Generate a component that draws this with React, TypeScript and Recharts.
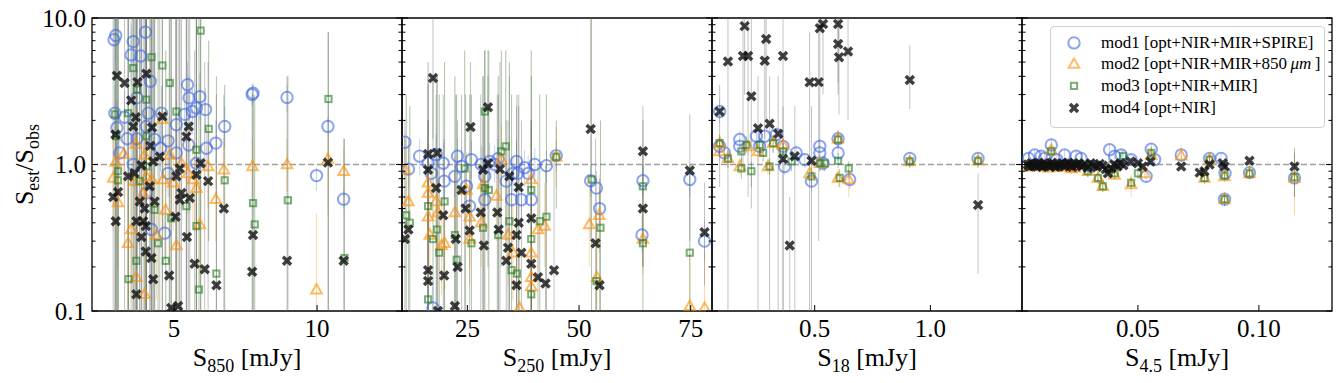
import { ErrorBar, ReferenceArea, ReferenceLine, Scatter, ScatterChart, XAxis, YAxis } from "recharts";

// each point: [flux, S_est/S_obs, lower end of bar, upper end of bar]
type Pt = [number, number, number, number];

const mod1_850: Pt[] = [
  [2.9,7.1,4.0,10],[2.96,7.6,5.0,10],[3.57,6.9,4.5,10],[3.5,5.6,3.5,9],[3.83,5.5,3.0,10],[4.0,8.0,5.0,10],[4.17,3.7,2.5,5.5],[3.7,2.85,1.8,4.5],
  [2.93,2.24,1.5,3.5],[3.27,2.1,1.4,3.2],[3.0,1.78,1.2,2.7],[3.36,1.5,1.0,2.3],[4.1,2.24,1.5,3.4],[4.03,1.82,1.2,2.8],[4.32,1.48,1.0,2.2],[4.56,2.24,1.5,3.4],
  [4.79,1.45,1.0,2.1],[4.53,1.29,0.9,1.9],[5.08,1.87,1.3,2.7],[5.47,3.5,2.4,5.0],[5.52,2.85,2.0,4.0],[5.9,2.9,2.0,4.2],[5.37,2.2,1.5,3.2],[5.78,2.43,1.7,3.5],
  [6.1,2.37,1.7,3.3],[5.64,2.3,1.6,3.3],[5.51,1.36,0.95,1.95],[6.13,1.29,0.9,1.8],[6.46,1.4,1.0,2.0],[6.77,1.82,1.3,2.5],[5.08,1.2,0.85,1.7],[5.78,1.02,0.75,1.4],
  [3.57,1.0,0.7,1.45],[4.79,0.87,0.6,1.25],[3.1,1.2,0.85,1.7],[7.76,3.07,2.6,3.6],[7.73,3.0,2.5,3.5],[8.95,2.87,2.3,3.5],[10.38,1.82,1.6,2.1],[9.98,0.84,0.66,0.95],
  [10.93,0.58,0.5,0.68],[4.67,0.34,0.22,0.5],[4.21,0.36,0.24,0.52],[4.03,0.64,0.45,0.9],[3.7,1.5,1.0,2.2],
];
const mod2_850: Pt[] = [
  [2.96,1.04,0.5,2.0],[2.87,0.81,0.35,1.7],[3.24,1.18,0.6,2.3],[3.04,0.55,0.2,1.2],[3.5,0.36,0.12,0.9],[3.39,0.29,0.1,0.8],[3.66,1.38,0.7,2.6],[3.62,0.77,0.35,1.6],
  [3.68,0.17,0.1,0.5],[3.97,1.16,0.55,2.3],[4.03,0.83,0.4,1.7],[3.92,0.64,0.3,1.4],[3.97,0.13,0.1,0.4],[4.21,0.79,0.35,1.6],[4.38,0.33,0.12,0.8],[4.62,0.79,0.35,1.6],
  [4.7,0.49,0.2,1.1],[4.85,1.16,0.6,2.2],[4.97,0.75,0.35,1.5],[5.08,0.28,0.1,0.7],[5.26,1.02,0.5,2.0],[5.49,0.87,0.45,1.7],[5.66,0.79,0.4,1.5],[5.78,0.69,0.35,1.4],
  [5.9,0.39,0.15,0.85],[6.19,0.97,0.5,1.8],[6.46,0.58,0.3,1.1],[6.74,0.92,0.55,1.5],[7.74,0.97,0.6,1.5],[8.95,1.0,0.65,1.5],[10.38,1.09,0.45,1.6],[10.93,0.9,0.6,1.3],
  [9.98,0.14,0.1,0.46],[4.59,2.04,1.0,3.5],
];
const mod3_850: Pt[] = [
  [5.93,8.2,0.1,10],[4.21,5.4,0.1,10],[4.59,4.74,0.1,10],[3.57,4.55,0.1,10],[4.85,3.6,0.1,10],[4.03,2.77,0.1,10],[3.7,3.24,0.1,10],[2.93,2.2,0.1,10],
  [3.39,2.24,0.1,10],[5.08,2.3,0.1,10],[6.21,1.75,0.3,7],[2.98,1.56,0.1,10],[4.03,1.56,0.1,10],[5.78,1.26,0.1,10],[3.04,0.9,0.1,10],[3.04,0.78,0.1,10],
  [6.77,0.78,0.1,3.5],[3.8,0.77,0.1,10],[4.32,0.49,0.1,10],[5.43,0.52,0.1,10],[4.9,0.43,0.1,10],[5.78,0.38,0.1,10],[4.44,0.29,0.1,10],[3.68,0.22,0.1,10],
  [4.71,0.22,0.1,6],[3.41,0.165,0.1,10],[5.87,0.14,0.1,10],[6.48,0.18,0.1,4],[7.76,0.545,0.1,3.5],[7.82,0.39,0.1,3],[8.98,0.57,0.1,4],[10.4,2.8,0.1,8],
  [10.96,0.23,0.1,1.5],[4.03,0.97,0.1,10],
];
const mod4_850: Pt[] = [
  [3.0,4.03,0.1,10],[3.27,3.6,0.1,10],[4.03,4.16,0.1,10],[3.72,3.65,0.1,10],[3.5,2.74,0.1,10],[3.66,2.1,0.1,10],[3.57,1.82,0.1,10],[2.95,1.6,0.1,10],
  [4.23,1.79,0.1,10],[4.59,2.13,0.1,10],[5.51,1.82,0.1,10],[5.43,1.55,0.1,10],[4.17,1.34,0.1,10],[4.5,1.13,0.1,10],[4.27,1.05,0.1,10],[3.86,0.99,0.1,10],
  [5.93,1.02,0.1,10],[3.39,0.83,0.1,10],[3.62,0.87,0.1,10],[5.08,0.83,0.1,10],[5.2,0.94,0.1,10],[5.78,0.85,0.1,10],[6.19,0.77,0.1,5],[4.15,0.71,0.1,10],
  [2.87,0.6,0.1,10],[3.04,0.65,0.1,10],[5.26,0.64,0.1,10],[5.2,0.575,0.1,10],[5.55,0.59,0.1,10],[3.8,0.56,0.1,10],[4.32,0.56,0.1,10],[3.97,0.5,0.1,10],
  [6.74,0.5,0.1,3],[5.05,0.44,0.1,10],[2.96,0.41,0.1,10],[3.68,0.41,0.1,10],[3.92,0.41,0.1,10],[4.01,0.38,0.1,10],[3.86,0.32,0.1,10],[5.45,0.32,0.1,10],
  [4.01,0.255,0.1,10],[4.21,0.23,0.1,10],[5.72,0.21,0.1,6],[6.07,0.193,0.1,5],[7.76,0.33,0.1,3],[7.73,0.185,0.1,3],[8.95,0.22,0.1,4],[10.38,1.03,0.1,8],
  [10.93,0.22,0.1,1.5],[4.83,0.175,0.1,10],[4.27,0.165,0.1,10],[6.48,0.15,0.1,3],[3.68,0.13,0.1,10],[4.9,0.105,0.1,10],[5.14,0.108,0.1,10],
];

const mod1_250: Pt[] = [
  [11,1.42,1.0,2.0],[11.8,0.93,0.7,1.3],[14.3,1.14,0.85,1.5],[16.2,1.02,0.75,1.4],[18,1.17,0.85,1.6],[16.9,0.87,0.6,1.2],[19.6,1.02,0.75,1.4],[19.8,0.77,0.55,1.1],
  [22.2,0.83,0.6,1.15],[22.8,1.14,0.85,1.5],[23.7,0.97,0.7,1.3],[24.8,0.71,0.5,1.0],[25.5,0.52,0.35,0.75],[25.9,1.08,0.8,1.45],[28.1,1.0,0.75,1.35],[28.9,0.83,0.6,1.15],
  [28.9,0.575,0.4,0.8],[30,1.05,0.8,1.4],[31.1,1.0,0.75,1.35],[31.9,1.1,0.8,1.5],[33.7,0.77,0.55,1.05],[34.9,0.575,0.4,0.8],[36,1.05,0.8,1.4],[36.3,0.87,0.65,1.15],
  [37.1,0.575,0.4,0.8],[37.8,0.95,0.7,1.25],[39.3,0.575,0.4,0.8],[40.1,1.0,0.75,1.3],[42.7,0.98,0.75,1.25],[44.9,1.15,0.9,1.45],[52.6,0.775,0.6,1.0],[53.9,0.69,0.5,0.9],
  [54.6,0.5,0.35,0.7],[64.3,0.775,0.6,1.0],[64.1,0.33,0.25,0.45],[74.8,0.79,0.6,1.0],[78.1,0.3,0.22,0.42],[17.3,0.105,0.1,0.16],[35.2,0.87,0.65,1.15],[38.6,0.87,0.65,1.15],
];
const mod2_250: Pt[] = [
  [11,0.92,0.5,1.7],[11.8,0.56,0.3,1.0],[16.2,0.75,0.4,1.4],[16.2,0.64,0.3,1.3],[16.2,0.44,0.2,0.9],[16.6,0.33,0.15,0.7],[18,0.56,0.3,1.1],[18.4,0.47,0.25,0.9],
  [19.2,0.28,0.13,0.6],[19.9,0.29,0.14,0.6],[22.2,0.47,0.25,0.9],[24.8,0.67,0.35,1.2],[25.5,0.44,0.2,0.9],[25.5,0.31,0.15,0.65],[28.1,0.4,0.2,0.8],[28.5,0.73,0.4,1.3],
  [31.5,0.61,0.3,1.2],[32.6,1.08,0.6,1.9],[34.1,0.33,0.15,0.7],[35.2,0.25,0.12,0.55],[39.3,0.79,0.4,1.5],[39.3,0.25,0.12,0.55],[39.3,0.17,0.1,0.4],[39.3,0.147,0.1,0.35],
  [40.8,0.36,0.18,0.75],[42.3,0.38,0.2,0.75],[44.9,1.13,0.7,1.8],[52.3,0.39,0.2,0.8],[54,0.17,0.1,0.4],[54.5,0.45,0.25,0.85],[64.3,0.31,0.18,0.6],[74.8,0.108,0.1,0.25],
  [78.1,0.105,0.1,0.25],[36.7,0.105,0.1,0.25],
];
const mod3_250: Pt[] = [
  [11.3,0.45,0.1,3],[12.1,0.4,0.1,2.5],[16.2,0.52,0.1,5],[16.2,0.12,0.1,2],[17.3,0.31,0.1,4],[19.9,0.56,0.1,5],[18.2,0.36,0.1,4],[18.7,0.25,0.1,3],
  [22.2,0.33,0.1,4],[22.6,0.224,0.1,3],[24.4,0.94,0.1,6],[25.9,0.29,0.1,3],[28.5,0.37,0.1,4],[28.9,0.69,0.1,6],[29.8,0.67,0.1,6],[28.9,2.3,0.5,6],
  [31.9,0.33,0.1,4],[32.6,1.23,0.2,6],[33.6,1.33,0.3,6],[34.4,0.41,0.1,5],[34.9,0.19,0.1,3],[36.1,0.18,0.1,3],[39.3,0.67,0.1,6],[39.3,0.31,0.1,4],
  [39.3,0.13,0.1,2],[41.2,0.41,0.1,3],[42.7,0.44,0.1,3],[44.9,1.13,0.5,2],[52.8,0.79,0.1,10],[54.8,0.37,0.1,2],[64.3,0.71,0.2,2],[64.3,0.29,0.1,1],
  [74.8,0.25,0.1,1],[53.9,0.16,0.1,0.5],
];
const mod4_250: Pt[] = [
  [17.3,3.9,1.5,10],[16.2,1.18,0.1,4],[18.2,1.2,0.1,4],[16.2,0.92,0.1,3.5],[18,0.69,0.1,3],[19.6,0.45,0.1,3],[11,0.31,0.1,1.5],[11.8,0.36,0.1,1.5],
  [16.2,0.19,0.1,2],[16.2,0.16,0.1,2],[19.8,0.175,0.1,1.5],[18.4,0.1,0.1,1],[22.2,0.108,0.1,1],[22.4,0.31,0.1,3],[22.8,0.2,0.1,2],[23.7,0.67,0.1,3],
  [24.6,0.5,0.1,3],[25.5,0.355,0.1,3],[25.7,1.8,0.4,5],[28,0.47,0.1,3],[28.5,0.92,0.1,4],[28.7,0.28,0.1,2.5],[29.6,2.46,0.5,6],[29.6,1.02,0.2,4],
  [31.7,0.47,0.1,3],[32,0.36,0.1,3],[32.3,0.93,0.1,5],[33.7,0.22,0.1,2],[34.1,0.27,0.1,2],[34.4,0.83,0.1,4],[36,0.33,0.1,2.5],[36.5,0.4,0.1,2.5],
  [36.5,0.7,0.1,3],[36,0.15,0.1,1.5],[37.1,0.25,0.1,2],[39.3,0.43,0.1,2],[39.3,0.21,0.1,2],[40.8,0.17,0.1,1],[42.5,0.154,0.1,1],[44.4,0.19,0.1,1.2],
  [52.6,1.75,0.3,10],[53.7,0.29,0.1,1.5],[54.6,0.15,0.1,0.8],[64.3,1.23,0.6,2.5],[64.3,0.5,0.2,1.2],[74.8,0.91,0.3,2.2],[78.1,0.345,0.15,0.75],
];

const mod1_18: Pt[] = [
  [0.089,2.3,1.9,2.8],[0.089,1.33,1.15,1.5],[0.176,1.48,1.3,1.7],[0.176,1.33,1.15,1.5],[0.248,1.56,1.35,1.8],[0.284,1.56,1.35,1.8],[0.334,1.6,1.4,1.8],[0.363,1.33,1.15,1.5],
  [0.37,0.97,0.85,1.1],[0.42,1.2,1.05,1.35],[0.457,1.08,0.95,1.2],[0.522,1.33,1.15,1.5],[0.522,1.2,1.05,1.35],[0.536,1.02,0.9,1.15],[0.486,0.77,0.65,0.9],[0.601,1.5,1.3,1.7],
  [0.601,1.2,1.05,1.35],[0.651,0.79,0.68,0.9],[0.911,1.1,1.0,1.2],[1.206,1.1,1.0,1.2],[0.262,1.33,1.15,1.5],[0.11,1.2,1.05,1.35],
];
const mod2_18: Pt[] = [
  [0.089,1.4,1.2,1.6],[0.089,1.23,1.05,1.4],[0.125,1.1,0.95,1.25],[0.176,0.97,0.85,1.1],[0.212,1.33,1.15,1.5],[0.255,1.23,1.05,1.4],[0.298,0.97,0.85,1.1],[0.32,1.4,1.2,1.6],
  [0.363,1.36,1.2,1.55],[0.478,0.87,0.75,1.0],[0.522,1.02,0.9,1.15],[0.601,1.5,1.3,1.7],[0.601,0.81,0.7,0.93],[0.647,0.79,0.6,0.95],[0.911,1.05,0.95,1.15],[1.206,1.06,0.95,1.15],
];
const mod3_18: Pt[] = [
  [0.089,1.4,1.2,1.6],[0.125,1.1,0.95,1.25],[0.183,1.23,1.05,1.4],[0.183,0.94,0.8,1.1],[0.205,1.36,1.2,1.55],[0.226,0.9,0.7,1.05],[0.262,1.36,1.2,1.55],[0.277,1.2,1.05,1.35],
  [0.305,0.97,0.85,1.1],[0.32,1.4,1.2,1.6],[0.363,1.23,1.05,1.4],[0.4,1.05,0.9,1.2],[0.486,0.83,0.7,0.95],[0.522,1.02,0.9,1.15],[0.543,1.02,0.9,1.15],[0.601,1.48,1.3,1.7],
  [0.601,1.06,0.95,1.2],[0.608,0.81,0.7,0.93],[0.647,0.94,0.8,1.05],[0.911,1.05,0.95,1.15],[1.206,1.06,0.95,1.15],
];
const mod4_18: Pt[] = [
  [0.197,8.8,3,10],[0.125,5.05,0.1,10],[0.19,5.5,1.0,10],[0.212,5.5,0.6,10],[0.29,7.2,2,10],[0.284,5.1,1.5,10],[0.363,5.5,0.1,10],[0.226,2.92,0.5,10],
  [0.255,1.77,0.1,4],[0.305,1.9,0.1,4],[0.342,1.62,0.1,4],[0.478,3.64,0.1,8],[0.517,3.65,0.3,10],[0.522,8.5,1.3,10],[0.536,9.1,3,10],[0.601,9.1,3.6,10],
  [0.601,6.65,3.0,10],[0.605,5.4,2.2,10],[0.644,5.9,2.0,10],[0.911,3.78,2.4,6.5],[1.206,0.53,0.18,0.87],[0.392,0.28,0.1,0.6],[0.363,1.09,0.1,2.5],[0.414,1.14,0.1,2.5],
  [0.486,1.06,0.1,2.5],[0.089,2.3,0.7,3.5],
];

const mod1_45: Pt[] = [
  [0.0048,1.1,1.0,1.2],[0.0073,1.16,1.05,1.27],[0.010,1.14,1.04,1.25],[0.0142,1.36,1.24,1.5],[0.0197,1.16,1.05,1.27],[0.0245,1.14,1.04,1.25],[0.0307,0.97,0.88,1.06],[0.0383,1.26,1.15,1.38],
  [0.0404,1.14,1.04,1.25],[0.0431,1.16,1.05,1.27],[0.0534,0.83,0.75,0.91],[0.0555,1.27,1.15,1.4],[0.0569,1.08,0.98,1.18],[0.0679,1.16,1.05,1.27],[0.0796,1.1,1.0,1.2],[0.0844,1.1,1.0,1.2],
  [0.086,0.87,0.8,0.95],[0.0858,0.58,0.52,0.64],[0.0961,0.88,0.8,0.96],[0.1147,0.81,0.72,0.9],[0.0472,1.08,0.98,1.18],[0.0115,1.1,1.0,1.2],[0.0165,1.08,0.98,1.18],[0.0265,1.1,1.0,1.2],
];
const mod2_45: Pt[] = [
  [0.0048,0.97,0.9,1.05],[0.0142,1.26,1.15,1.38],[0.0225,0.94,0.86,1.03],[0.0335,0.81,0.74,0.89],[0.0355,0.71,0.65,0.78],[0.0404,0.85,0.78,0.93],[0.0472,0.73,0.6,0.85],[0.0528,0.87,0.8,0.95],
  [0.0555,1.16,1.05,1.27],[0.0679,1.15,1.0,1.35],[0.0775,0.81,0.74,0.89],[0.0858,0.83,0.76,0.9],[0.0858,0.58,0.52,0.64],[0.0961,0.87,0.8,0.95],[0.1147,0.81,0.45,1.25],[0.0796,1.08,0.98,1.18],
  [0.0293,0.9,0.82,0.98],[0.008,0.97,0.9,1.05],[0.013,0.95,0.88,1.03],[0.018,0.96,0.88,1.04],[0.024,0.95,0.88,1.03],
];
const mod3_45: Pt[] = [
  [0.0048,0.97,0.9,1.05],[0.0142,1.23,1.12,1.35],[0.0197,1.0,0.92,1.08],[0.0335,0.81,0.74,0.89],[0.0355,0.71,0.65,0.78],[0.0404,0.87,0.8,0.95],[0.0438,1.14,1.04,1.25],[0.0472,0.75,0.68,0.82],
  [0.05,0.87,0.8,0.95],[0.0555,1.2,1.1,1.32],[0.0775,0.81,0.74,0.89],[0.0796,1.08,0.98,1.18],[0.0858,0.84,0.77,0.92],[0.0858,0.58,0.52,0.64],[0.0961,0.87,0.8,0.95],[0.1147,0.82,0.6,1.2],
  [0.0293,0.9,0.82,0.98],[0.0266,1.0,0.92,1.08],[0.009,1.0,0.92,1.08],[0.011,0.98,0.9,1.06],[0.0155,0.97,0.9,1.05],[0.0225,1.02,0.94,1.1],[0.038,0.92,0.8,1.1],
];
const mod4_45: Pt[] = [
  [0.0045,1.0,0.95,1.05],[0.0052,0.97,0.92,1.02],[0.006,1.02,0.97,1.07],[0.0068,0.98,0.93,1.03],[0.0075,1.01,0.96,1.06],[0.0083,0.97,0.92,1.02],[0.009,1.03,0.98,1.08],[0.0098,0.99,0.94,1.04],
  [0.0105,0.96,0.91,1.01],[0.0113,1.02,0.97,1.07],[0.012,0.98,0.93,1.03],[0.0128,1.0,0.95,1.05],[0.0136,0.97,0.92,1.02],[0.0145,1.03,0.98,1.08],[0.0153,0.99,0.94,1.04],[0.016,0.96,0.91,1.01],
  [0.0168,1.01,0.96,1.06],[0.0177,0.98,0.93,1.03],[0.0185,1.02,0.97,1.07],[0.0194,0.97,0.92,1.02],[0.0203,1.0,0.95,1.05],[0.0212,1.03,0.98,1.08],[0.022,0.98,0.93,1.03],[0.0229,0.96,0.91,1.01],
  [0.0238,1.01,0.96,1.06],[0.0247,0.99,0.94,1.04],[0.0256,1.02,0.97,1.07],[0.0268,0.97,0.92,1.02],[0.028,1.0,0.95,1.05],[0.0292,0.95,0.9,1.0],[0.0305,1.02,0.97,1.07],[0.0318,0.98,0.93,1.03],
  [0.033,0.96,0.91,1.01],[0.0342,1.01,0.96,1.06],[0.0355,0.98,0.93,1.03],[0.0367,0.93,0.88,0.98],[0.0376,0.87,0.82,0.92],[0.039,0.94,0.89,0.99],[0.0402,1.0,0.95,1.05],[0.0415,0.97,0.92,1.02],
  [0.0428,1.02,0.97,1.07],[0.044,0.99,0.94,1.04],[0.047,1.05,1.0,1.1],[0.05,1.02,0.97,1.07],[0.052,0.97,0.92,1.02],[0.0552,1.05,1.0,1.1],[0.0679,0.97,0.92,1.02],[0.0755,0.88,0.84,0.92],
  [0.0775,0.9,0.86,0.94],[0.0796,1.0,0.95,1.05],[0.085,1.02,0.97,1.07],[0.0858,0.97,0.92,1.02],[0.0961,1.06,1.0,1.12],[0.1147,0.97,0.6,1.3],
];

const yTicks = [0.1, 0.2, 0.3, 0.4, 0.5, 0.6, 0.7, 0.8, 0.9, 1, 2, 3, 4, 5, 6, 7, 8, 9, 10];
const yMajor = [0.1, 1, 10];
const yLabels = ["0.1", "1.0", "10.0"];

const panels = [
  { left: 92, right: 402, domain: [2.13, 12.97], ticks: [5, 10], tickLabels: ["5", "10"], band: "850", series: [mod1_850, mod2_850, mod3_850, mod4_850] },
  { left: 402, right: 712, domain: [10.36, 79.77], ticks: [25, 50, 75], tickLabels: ["25", "50", "75"], band: "250", series: [mod1_250, mod2_250, mod3_250, mod4_250] },
  { left: 712, right: 1022, domain: [0.056, 1.396], ticks: [0.5, 1.0], tickLabels: ["0.5", "1.0"], band: "18", series: [mod1_18, mod2_18, mod3_18, mod4_18] },
  { left: 1022, right: 1332, domain: [0.0021, 0.1302], ticks: [0.05, 0.1], tickLabels: ["0.05", "0.10"], band: "4.5", series: [mod1_45, mod2_45, mod3_45, mod4_45] },
];

const W = 1341;
const H = 383;
const TOP = 18;
const BOTTOM = 311;
const FONT = "'Liberation Serif', 'Times New Roman', serif";
const txt = { fontFamily: FONT };

const models = [
  { name: "mod1", label: "[opt+NIR+MIR+SPIRE]", err: "#4169e1", errOpacity: 0.3 },
  { name: "mod2", label: "[opt+NIR+MIR+850", err: "#ff8c00", errOpacity: 0.35 },
  { name: "mod3", label: "[opt+NIR+MIR]", err: "#2d6a1f", errOpacity: 0.4 },
  { name: "mod4", label: "[opt+NIR]", err: "#777", errOpacity: 0.45 },
];

function Marker({ kind, cx, cy }: { kind: number; cx: number; cy: number }) {
  if (cx == null || cy == null || isNaN(cx) || isNaN(cy)) return <g />;
  if (kind === 0)
    return <circle cx={cx} cy={cy} r={5.7} fill="none" stroke="#4169e1" strokeOpacity={0.6} strokeWidth={2} />;
  if (kind === 1)
    return (
      <polygon
        points={`${cx},${cy - 5.5} ${cx - 5.3},${cy + 3.8} ${cx + 5.3},${cy + 3.8}`}
        fill="none" stroke="#ff8c00" strokeOpacity={0.6} strokeWidth={2}
      />
    );
  if (kind === 2)
    return <rect x={cx - 3.1} y={cy - 3.1} width={6.2} height={6.2} fill="none" stroke="#1f7a1f" strokeOpacity={0.6} strokeWidth={2} />;
  return (
    <path
      d={`M${cx - 4},${cy - 4}L${cx + 4},${cy + 4}M${cx - 4},${cy + 4}L${cx + 4},${cy - 4}`}
      stroke="#111" strokeWidth={3.5} opacity={0.8}
    />
  );
}

const toRows = (pts: Pt[]) => pts.map(([x, y, lo, hi]) => ({ x, y, err: [y - lo, hi - y] }));

function YTick(props: any) {
  const { x, y, payload, side, showLabel } = props;
  const v = payload.value;
  const mi = yMajor.indexOf(v);
  const len = mi >= 0 ? 6 : 3.5;
  const x2 = side === "left" ? x + len : x - len;
  return (
    <g>
      <line x1={x} x2={x2} y1={y} y2={y} stroke="#000" strokeWidth={1} />
      {showLabel && mi >= 0 && (
        <text x={x - 6} y={y + 8.5} textAnchor="end" fontSize={25} style={txt} fill="#000">
          {yLabels[mi]}
        </text>
      )}
    </g>
  );
}

function XTick(props: any) {
  const { x, y, payload, ticks, labels } = props;
  const i = ticks.indexOf(payload.value);
  return (
    <g>
      <line x1={x} x2={x} y1={y} y2={y - 6} stroke="#000" strokeWidth={1} />
      <text x={x} y={y + 25.5} textAnchor="middle" fontSize={25} style={txt} fill="#000">
        {labels[i]}
      </text>
    </g>
  );
}

function XLabel(props: any) {
  const { viewBox, band } = props;
  const cx = viewBox.x + viewBox.width / 2;
  return (
    <text x={cx} y={BOTTOM + 55} textAnchor="middle" fontSize={26} style={txt} fill="#000">
      S<tspan dy={6} fontSize={18}>{band}</tspan>
      <tspan dy={-6}> [mJy]</tspan>
    </text>
  );
}

function YLabel() {
  const x = 33;
  const y = TOP + (BOTTOM - TOP) / 2;
  return (
    <text x={x} y={y} transform={`rotate(-90, ${x}, ${y})`} textAnchor="middle" fontSize={26} style={txt} fill="#000">
      S<tspan dy={6} fontSize={18}>est</tspan>
      <tspan dy={-6}>/S</tspan>
      <tspan dy={6} fontSize={18}>obs</tspan>
    </text>
  );
}

function Panel({ p, index }: { p: (typeof panels)[number]; index: number }) {
  const first = index === 0;
  // axes are 1px wide/high so that recharts still draws them; margins compensate
  return (
    <div style={{ position: "absolute", left: 0, top: 0 }}>
      <ScatterChart width={W} height={H} margin={{ top: TOP, bottom: H - BOTTOM - 1, left: p.left - 1, right: W - p.right - 1 }}>
        <XAxis
          type="number" dataKey="x" domain={p.domain} allowDataOverflow ticks={p.ticks} interval={0}
          height={1} tickSize={0} tickMargin={0} axisLine={false} tickLine={false}
          tick={(tp: any) => <XTick {...tp} ticks={p.ticks} labels={p.tickLabels} />}
          label={<XLabel band={p.band} />}
        />
        <YAxis
          yAxisId="l" type="number" dataKey="y" scale="log" domain={[0.1, 10]} allowDataOverflow ticks={yTicks} interval={0}
          width={1} tickSize={0} tickMargin={0} axisLine={false} tickLine={false}
          tick={(tp: any) => <YTick {...tp} side="left" showLabel={first} />}
          label={first ? <YLabel /> : undefined}
        />
        <YAxis
          yAxisId="r" orientation="right" type="number" dataKey="y" scale="log" domain={[0.1, 10]} allowDataOverflow ticks={yTicks} interval={0}
          width={1} tickSize={0} tickMargin={0} axisLine={false} tickLine={false}
          tick={(tp: any) => <YTick {...tp} side="right" showLabel={false} />}
        />
        <ReferenceLine yAxisId="l" y={1} stroke="#888" strokeOpacity={0.8} strokeWidth={1.5} strokeDasharray="6 3" />
        {p.series.map((pts, k) => (
          <Scatter
            key={k} yAxisId="l" name={models[k].name} data={toRows(pts)} isAnimationActive={false}
            shape={(sp: any) => <Marker kind={k} cx={sp.cx} cy={sp.cy} />}
          >
            <ErrorBar dataKey="err" direction="y" width={0} stroke={models[k].err} strokeOpacity={models[k].errOpacity} strokeWidth={1} />
          </Scatter>
        ))}
        <ReferenceArea
          yAxisId="l" x1={p.domain[0]} x2={p.domain[1]} y1={0.1} y2={10}
          fill="none" stroke="#000" strokeWidth={1.3} fillOpacity={0}
        />
      </ScatterChart>
    </div>
  );
}

function Legend() {
  const rowH = 21.8;
  return (
    <div
      style={{
        position: "absolute", left: 1050, top: 26, width: 273, height: 100,
        border: "1px solid #d0d0d0", borderRadius: 4, background: "rgba(255,255,255,0.85)",
        fontFamily: FONT, fontSize: 17, color: "#000",
      }}
    >
      {models.map((m, k) => (
        <div key={m.name} style={{ position: "absolute", left: 0, top: 4.5 + k * rowH, height: rowH, width: "100%" }}>
          <svg width={40} height={rowH} style={{ position: "absolute", left: 3, top: 0 }}>
            <Marker kind={k} cx={20} cy={rowH / 2} />
          </svg>
          <span style={{ position: "absolute", left: 50, top: 0, lineHeight: `${rowH}px`, whiteSpace: "nowrap" }}>
            {m.name} {m.label}
            {k === 1 && (
              <>
                {"\u2009"}<i>μm</i>{"\u2009"}]
              </>
            )}
          </span>
        </div>
      ))}
    </div>
  );
}

export default function App() {
  return (
    <div style={{ position: "absolute", left: 0, top: 0, width: W, height: H, background: "#fff", overflow: "hidden" }}>
      {panels.map((p, i) => (
        <Panel key={p.band} p={p} index={i} />
      ))}
      <Legend />
    </div>
  );
}
